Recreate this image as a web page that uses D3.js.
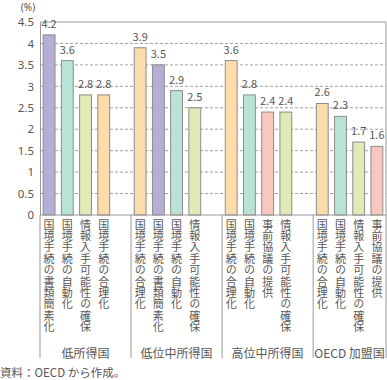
<!DOCTYPE html>
<html><head><meta charset="utf-8">
<script src="https://cdn.jsdelivr.net/npm/d3@7"></script>
<style>
body{margin:0;background:#fff;}
svg{display:block;font-family:"Noto Sans CJK JP","Noto Sans",sans-serif;}
</style></head><body>
<svg id="c" width="387" height="380"></svg>
<script>
// Data
const groups = ["低所得国", "低位中所得国", "高位中所得国", "OECD 加盟国"];
const labels1 = ["国境手続の書類簡素化", "国境手続の自動化", "情報入手可能性の確保", "国境手続の合理化"];
const values1 = [4.2, 3.6, 2.8, 2.8];
const labels2 = ["国境手続の合理化", "国境手続の書類簡素化", "国境手続の自動化", "情報入手可能性の確保"];
const values2 = [3.9, 3.5, 2.9, 2.5];
const labels3 = ["国境手続の合理化", "国境手続の自動化", "事前協議の提供", "情報入手可能性の確保"];
const values3 = [3.6, 2.8, 2.4, 2.4];
const labels4 = ["国境手続の合理化", "国境手続の自動化", "情報入手可能性の確保", "事前協議の提供"];
const values4 = [2.6, 2.3, 1.7, 1.6];
const yTicks = [0, 0.5, 1, 1.5, 2, 2.5, 3, 3.5, 4, 4.5];
const source = "資料：OECD から作成。";

const colorMap = {
  "国境手続の書類簡素化": "#b5aed6",
  "国境手続の自動化": "#b8e3d6",
  "情報入手可能性の確保": "#dfeab7",
  "国境手続の合理化": "#fcdcab",
  "事前協議の提供": "#f9c7be"
};

const allLabels = [labels1, labels2, labels3, labels4];
const allValues = [values1, values2, values3, values4];
const slots = [];
const bars = [];
allLabels.forEach((labs, gi) => {
  labs.forEach((l, i) => {
    const id = `g${gi}_${i}`;
    slots.push(id);
    bars.push({id, label: l, value: allValues[gi][i], group: gi});
  });
  if (gi < allLabels.length - 1) slots.push(`sp${gi}`);
});

const svg = d3.select("#c");
const textColor = "#595757";
const numFont = '"Noto Sans",sans-serif';
const pL = 40, pR = 386, pT = 22, pB = 215;

const x = d3.scaleBand().domain(slots).range([pL, pR]).paddingInner(0.35).paddingOuter(0.175);
const y = d3.scaleLinear().domain([0, 4.5]).range([pB, pT]);

// grid lines
svg.append("g").selectAll("line").data(yTicks.filter(t => t > 0 && t < 4.5)).join("line")
  .attr("x1", pL).attr("x2", pR).attr("y1", d => y(d)).attr("y2", d => y(d))
  .attr("stroke", "#8a8a8a").attr("stroke-width", 0.8).attr("stroke-dasharray", "3,2");

svg.append("line").attr("x1", pL).attr("x2", pR).attr("y1", y(4.5)).attr("y2", y(4.5))
  .attr("stroke", "#999").attr("stroke-width", 1);

// bars
svg.append("g").selectAll("rect").data(bars).join("rect")
  .attr("x", d => x(d.id)).attr("width", x.bandwidth())
  .attr("y", d => y(d.value)).attr("height", d => y(0) - y(d.value))
  .attr("fill", d => colorMap[d.label]).attr("stroke", "#8c8c8c").attr("stroke-width", 1);

// value labels
svg.append("g").selectAll("text").data(bars).join("text")
  .attr("x", d => x(d.id) + x.bandwidth() / 2).attr("y", d => y(d.value) - 7)
  .attr("text-anchor", "middle").attr("font-size", 11).attr("fill", textColor)
  .text(d => d.value.toFixed(1));

// y axis
const yAxis = d3.axisLeft(y).tickValues(yTicks).tickSize(0).tickPadding(6).tickFormat(d => d);
const ga = svg.append("g").attr("transform", `translate(${pL},0)`).call(yAxis);
ga.select(".domain").attr("stroke", "#999");
ga.selectAll("text").attr("font-size", 11.5).attr("fill", textColor).attr("font-family", numFont);

svg.append("text").attr("x", 28).attr("y", 11).attr("text-anchor", "middle")
  .attr("font-family", numFont).attr("font-size", 10).attr("fill", textColor).text("(%)");

svg.append("line").attr("x1", pL).attr("x2", pR).attr("y1", y(0)).attr("y2", y(0))
  .attr("stroke", "#999");

// separators
const step = x.step();
const sepX = [pL];
slots.forEach((s, i) => { if (s.startsWith("sp")) sepX.push(pL + (i + 1) * step); });
svg.append("g").selectAll("line").data(sepX).join("line")
  .attr("x1", d => d).attr("x2", d => d).attr("y1", y(0)).attr("y2", 358)
  .attr("stroke", "#999");
svg.append("line").attr("x1", pR).attr("x2", pR).attr("y1", y(4.5)).attr("y2", 358)
  .attr("stroke", "#999");

// category labels (vertical)
svg.append("g").selectAll("text").data(bars).join("text")
  .attr("x", d => x(d.id) + x.bandwidth() / 2).attr("y", 219)
  .style("writing-mode", "vertical-rl").style("text-orientation", "upright")
  .attr("font-size", 11).attr("letter-spacing", 0.4).attr("fill", textColor)
  .text(d => d.label);

// group labels
const bounds = sepX.concat([pR]);
svg.append("g").selectAll("text").data(groups).join("text")
  .attr("x", (d, i) => (bounds[i] + bounds[i + 1]) / 2).attr("y", 358)
  .attr("text-anchor", "middle").attr("font-size", 12).attr("fill", textColor)
  .text(d => d);

svg.append("text").attr("x", 0).attr("y", 377).attr("font-size", 11.5).attr("fill", textColor).text(source);
</script>
</body></html>
